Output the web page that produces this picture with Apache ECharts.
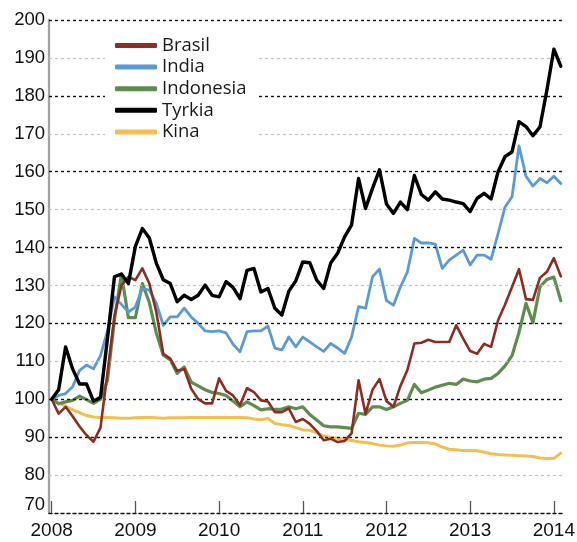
<!DOCTYPE html>
<html>
<head>
<meta charset="utf-8">
<script src="https://cdn.jsdelivr.net/npm/echarts@6/dist/echarts.min.js"></script>
<style>
html,body{margin:0;padding:0;background:#fff;}
#chart{width:577px;height:542px;}
</style>
</head>
<body>
<div id="chart"></div>
<script>
// Monthly index, Jan 2008 = 100, Jan 2008 .. Feb 2014
const startYear = 2008;
const yearTicks = [2008, 2009, 2010, 2011, 2012, 2013, 2014];
const yTicks = [70, 80, 90, 100, 110, 120, 130, 140, 150, 160, 170, 180, 190, 200];
const seriesNames = ['Brasil', 'India', 'Indonesia', 'Tyrkia', 'Kina'];

const brasil = [
  100, 96.2, 98, 95.5, 92.8, 90.5, 88.8, 92.5, 107, 122, 130, 132.3,
  131.4, 134.5, 130.5, 123, 112, 110.7, 107.5, 108, 102.8, 100, 98.9, 98.9,
  105.5, 102.2, 101, 98.4, 102.9, 101.9, 99.7, 99.4, 96.6, 96.6, 97.6, 94,
  94.8, 93.5, 91.6, 89.2, 89.6, 88.7, 89, 91, 105, 96.2, 102.5, 105.3,
  99.5, 98, 103.5, 107.7, 114.7, 114.9, 115.7, 115.1, 115.1, 115.1, 119.5, 116,
  112.7, 112, 114.6, 113.8, 120.8, 125, 129.6, 134.3, 126.4, 126.2, 132, 133.6,
  137.2, 132.4
];
const india = [
  100, 101, 101.5, 103.3, 107.6, 109, 108, 111.5, 118, 127, 125, 123,
  124.3, 129.2, 128.8, 125.3, 119.5, 121.7, 121.7, 124, 121.7, 120, 118, 117.8,
  118, 117.5, 114.5, 112.5, 117.8, 118, 118, 119.3, 113.5, 113, 116.4, 113.8,
  116.4, 115.1, 113.8, 112.6, 114.7, 113.5, 112.1, 116.4, 124.4, 124, 132.3, 134.3,
  126, 124.8, 129.6, 133.6, 142.4, 141.2, 141.2, 140.9, 134.5, 136.7, 138, 139.3,
  135.4, 138, 138, 136.9, 143.7, 150.7, 153.4, 166.8, 158.8, 156.2, 158.2, 157.1,
  158.8, 156.9
];
const indonesia = [
  100, 98.8, 99.3, 99.7, 100.8, 99.9, 98.9, 100, 105, 121, 133, 121.5,
  121.5, 130.5, 125.5, 117.5, 111.6, 110.4, 106.8, 108.5, 104.5, 103.5, 102.5, 101.8,
  101.5, 101, 99.5, 98, 99.3, 98.3, 97.2, 97.5, 97.3, 97.4, 98, 97.5,
  98, 96, 94.5, 93, 92.7, 92.7, 92.5, 92.3, 96.3, 96, 98, 98,
  97.3, 98, 98.9, 99.7, 103.9, 101.7, 102.4, 103.2, 103.7, 104.2, 103.9, 105.3,
  104.8, 104.6, 105.3, 105.5, 106.8, 108.8, 111.5, 117.6, 125.3, 120.2, 129.6, 131.6,
  132.2, 126
];
const tyrkia = [
  100, 102.5, 113.8, 108, 104, 104, 99.5, 100.5, 116, 132.3, 133, 130.5,
  140.3, 145, 142.5, 135.9, 131.5, 130.5, 125.7, 127.4, 126.3, 127.4, 130.1, 127.4,
  127, 131, 129.5, 126.5, 134, 134.5, 128.3, 129.2, 124, 122.2, 128.5, 131.2,
  136.2, 136, 131.4, 129.2, 135.9, 138.5, 142.8, 146, 158.2, 150.3, 155.6, 160.5,
  151.5, 149, 152, 150, 159, 154, 152.5, 154.7, 152.8, 152.5, 152, 151.6,
  149.5, 153, 154.3, 152.8, 160, 164, 165.2, 173.2, 171.9, 169.5, 171.8, 181.5,
  192.3, 187.8
];
const kina = [
  100, 99, 98.2, 97.2, 96.5, 95.7, 95.3, 95.2, 95.2, 95.1, 95, 95,
  95.1, 95.2, 95.2, 95.1, 95, 95.1, 95.1, 95.1, 95.2, 95.2, 95.2, 95.2,
  95.2, 95.2, 95.2, 95.2, 95.1, 94.8, 94.6, 94.9, 93.6, 93.3, 93.1, 92.5,
  91.9, 91.8, 91.2, 90.3, 89.9, 89.7, 89.4, 89.1, 88.8, 88.6, 88.3, 87.9,
  87.7, 87.6, 87.9, 88.5, 88.6, 88.6, 88.5, 88.2, 87.4, 86.8, 86.7, 86.5,
  86.5, 86.4, 86, 85.6, 85.4, 85.3, 85.2, 85.1, 85, 84.9, 84.5, 84.4,
  84.4, 85.8
];

const colors = {
  Brasil: '#8d2d21',
  India: '#5b9bd5',
  Indonesia: '#5e8e4e',
  Tyrkia: '#000000',
  Kina: '#f2c04e'
};

// Horizontal reference lines: dark dotted and light grey dashed
const darkLines = [200, 180, 160, 140, 120, 100, 90];
const greyLines = [190, 170, 150, 130, 110, 80];

function toPairs(arr) {
  return arr.map((v, i) => [startYear + i / 12, v]);
}

const chart = echarts.init(document.getElementById('chart'), null, {renderer: 'canvas'});

const markData = []
  .concat(greyLines.map(v => ({yAxis: v, lineStyle: {color: '#c4c4c4', type: [3, 3], width: 1.2}})))
  .concat(darkLines.map(v => ({yAxis: v, lineStyle: {color: '#111', type: [3, 3], width: 1.4}})));

function lineSeries(name, data, width, z) {
  return {
    name: name,
    type: 'line',
    data: toPairs(data),
    showSymbol: false,
    symbol: 'none',
    smooth: false,
    z: z,
    lineStyle: {color: colors[name], width: width, cap: 'round', join: 'round'},
    itemStyle: {color: colors[name]}
  };
}

const option = {
  animation: false,
  backgroundColor: '#fff',
  grid: {left: 49, right: 12, top: 20, bottom: 29, containLabel: false, outerBoundsMode: 'none'},
  legend: {
    orient: 'vertical',
    left: 105,
    top: 31,
    padding: [5, 12, 6, 10],
    backgroundColor: '#fff',
    itemGap: 2.6,
    itemWidth: 42,
    itemHeight: 5,
    icon: 'roundRect',
    z: 10,
    textStyle: {fontFamily: 'Open Sans', fontSize: 18.5, color: '#1a1a1a', lineHeight: 17},
    data: seriesNames
  },
  xAxis: {
    type: 'value',
    min: 2007.968,
    max: 2014.133,
    axisLine: {show: true, onZero: false, lineStyle: {color: '#111', type: [3, 3], width: 1.4}},
    axisTick: {show: true, inside: true, length: 12, customValues: yearTicks, lineStyle: {color: '#555', width: 1.3}},
    axisLabel: {
      customValues: yearTicks,
      margin: 8,
      color: '#111',
      fontFamily: 'Liberation Sans',
      fontSize: 19,
      formatter: v => String(Math.round(v))
    },
    splitLine: {show: false}
  },
  yAxis: {
    type: 'value',
    min: 70,
    max: 200,
    interval: 10,
    axisLine: {show: true, lineStyle: {color: '#a3a3a3', width: 2.3}},
    axisTick: {show: false},
    splitLine: {show: false},
    axisLabel: {
      margin: 4,
      color: '#111',
      fontFamily: 'Liberation Sans',
      fontSize: 18.5,
      formatter: v => (v === 70 ? '{lo|70}' : String(v)),
      rich: {lo: {fontFamily: 'Liberation Sans', fontSize: 18.5, color: '#111', padding: [0, 0, 16, 0]}}
    }
  },
  series: [
    {
      name: '_grid',
      type: 'line',
      data: [[2008, 100]],
      showSymbol: false,
      symbol: 'none',
      silent: true,
      z: 1,
      lineStyle: {width: 0, opacity: 0},
      markLine: {symbol: 'none', silent: true, label: {show: false}, animation: false, data: markData}
    },
    lineSeries('Kina', kina, 3, 2),
    lineSeries('Indonesia', indonesia, 3.2, 3),
    lineSeries('India', india, 2.8, 4),
    lineSeries('Brasil', brasil, 2.6, 5),
    lineSeries('Tyrkia', tyrkia, 3.4, 6)
  ]
};

chart.setOption(option);
</script>
</body>
</html>
